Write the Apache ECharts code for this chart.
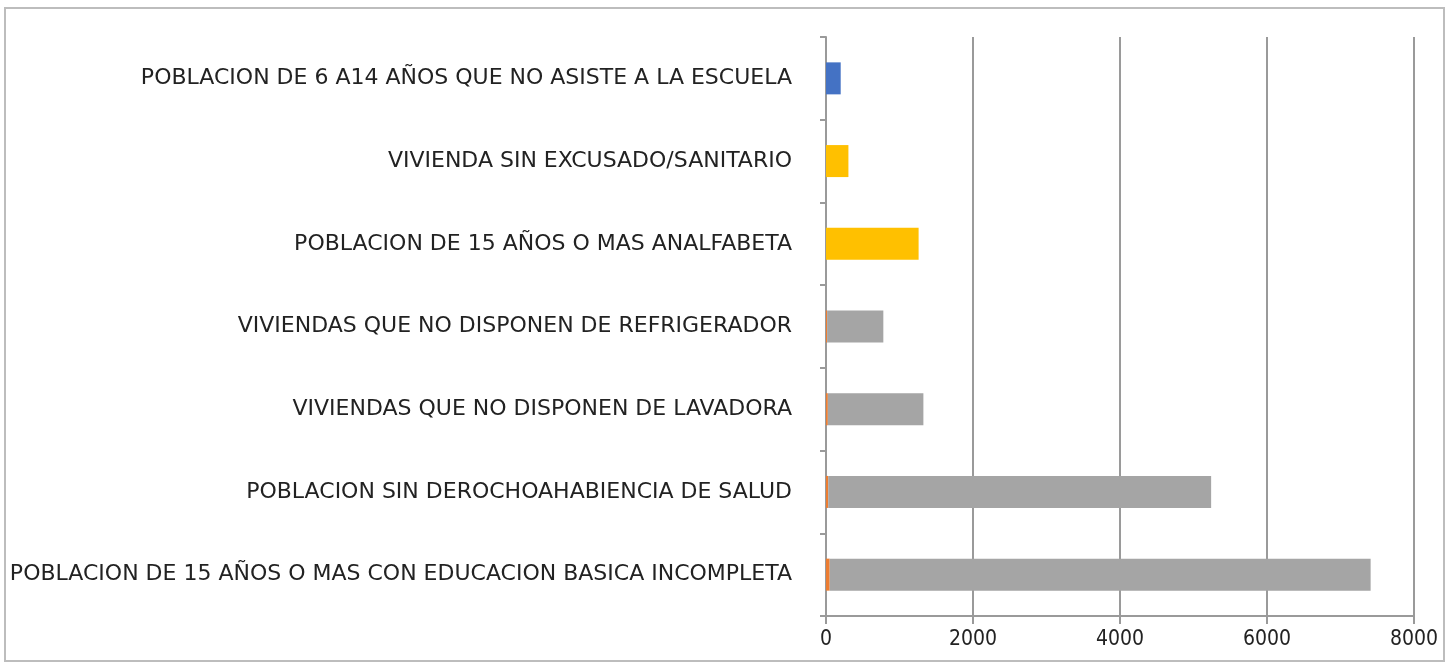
<!DOCTYPE html>
<html>
<head>
<meta charset="utf-8">
<script src="https://cdn.jsdelivr.net/npm/echarts@6/dist/echarts.min.js"></script>
<style>
html,body{margin:0;padding:0;background:#fff;}
#chart{width:1456px;height:663px;}
</style>
</head>
<body>
<div id="chart"></div>
<script>
const categories = [
  'POBLACION DE 15 AÑOS O MAS CON EDUCACION BASICA INCOMPLETA',
  'POBLACION SIN DEROCHOAHABIENCIA DE SALUD',
  'VIVIENDAS QUE NO DISPONEN DE LAVADORA',
  'VIVIENDAS QUE NO DISPONEN DE REFRIGERADOR',
  'POBLACION DE 15 AÑOS O MAS ANALFABETA',
  'VIVIENDA SIN EXCUSADO/SANITARIO',
  'POBLACION DE 6 A14 AÑOS QUE NO ASISTE A LA ESCUELA'
];
const orangeValues = [50, 30, 25, 15, null, null, null];
const grayValues   = [7360, 5210, 1300, 765, null, null, null];
const yellowValues = [null, null, null, null, 1260, 305, null];
const blueValues   = [null, null, null, null, null, null, 200];
const xTicks = {min: 0, max: 8000, interval: 2000};

const chart = echarts.init(document.getElementById('chart'));
const fontFam = '"DejaVu Sans", sans-serif';
const barW = 32;
chart.setOption({
  animation: false,
  backgroundColor: '#ffffff',
  graphic: [{
    type: 'rect',
    shape: {x: 5, y: 8, width: 1439, height: 653},
    style: {fill: 'none', stroke: '#bdbdbd', lineWidth: 2},
    silent: true
  }],
  grid: {left: 826, right: 42, top: 37, bottom: 47, containLabel: false},
  xAxis: {
    type: 'value',
    min: xTicks.min, max: xTicks.max, interval: xTicks.interval,
    axisLine: {show: true, lineStyle: {color: '#9a9a9a', width: 2}},
    axisTick: {show: true, length: 8, lineStyle: {color: '#9a9a9a', width: 2}},
    splitLine: {show: true, lineStyle: {color: '#9a9a9a', width: 2}},
    axisLabel: {color: '#222', fontSize: 21, fontFamily: '"DejaVu Sans Condensed", sans-serif', margin: 13,
      formatter: function (v) { return String(v); }}
  },
  yAxis: {
    type: 'category',
    data: categories,
    axisLine: {show: true, lineStyle: {color: '#9a9a9a', width: 2}},
    axisTick: {show: true, length: 6, alignWithLabel: false, lineStyle: {color: '#9a9a9a', width: 2}},
    axisLabel: {color: '#222', fontSize: 22, fontFamily: fontFam, margin: 34}
  },
  series: [
    {type: 'bar', stack: 'a', data: orangeValues, barWidth: barW, itemStyle: {color: '#ED7D31'}},
    {type: 'bar', stack: 'a', data: grayValues, barWidth: barW, itemStyle: {color: '#A5A5A5'}},
    {type: 'bar', stack: 'a', data: yellowValues, barWidth: barW, itemStyle: {color: '#FFC000'}},
    {type: 'bar', stack: 'a', data: blueValues, barWidth: barW, itemStyle: {color: '#4472C4'}}
  ]
});
</script>
</body>
</html>
